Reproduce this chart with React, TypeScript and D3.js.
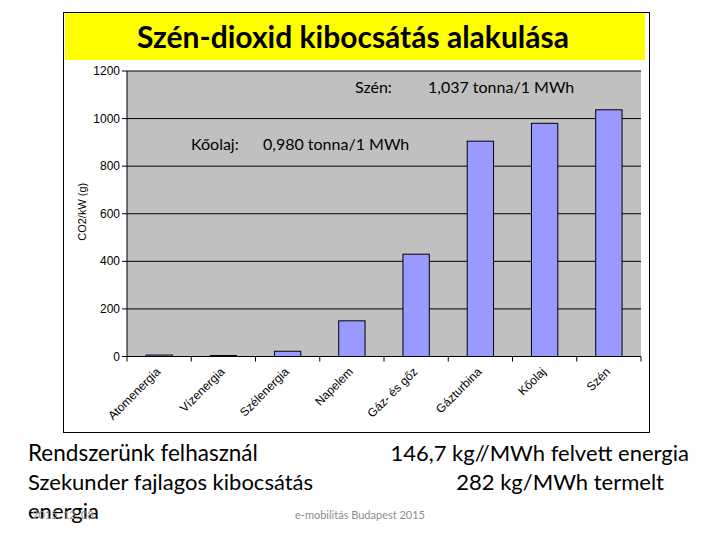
import React from "react";
import * as d3 from "d3";

const categories = ["Atomenergia", "Vízenergia", "Szélenergia", "Napelem", "Gáz- és gőz", "Gázturbina", "Kőolaj", "Szén"];
const values = [6, 4, 22, 150, 430, 905, 980, 1037];
const yTicks = [0, 200, 400, 600, 800, 1000, 1200];
const yTickLabels = ["0", "200", "400", "600", "800", "1000", "1200"];

const W = 720;
const H = 540;
const plotLeft = 127;
const plotRight = 641;
const plotTop = 71;
const plotBottom = 356.5;
const FONT = "Lato, 'Open Sans', sans-serif";
const AX = "'Liberation Sans', Arial, sans-serif";

export default function App() {
  const x = d3.scaleBand<string>().domain(categories).range([plotLeft, plotRight]).paddingInner(0.59).paddingOuter(0.295);
  const xb = d3.scaleBand<string>().domain(categories).range([plotLeft, plotRight]);
  const y = d3.scaleLinear().domain([0, 1200]).range([plotBottom, plotTop]);
  const tickXs = [...categories.map((c) => xb(c) as number), plotRight];

  return (
    <div style={{ position: "absolute", left: 0, top: 0, width: W, height: H, background: "#fff" }}>
      <svg width={W} height={H} style={{ display: "block" }}>
        <rect x={0} y={0} width={W} height={H} fill="#fff" />
        {/* chart frame */}
        <rect x={63.5} y={12.5} width={586} height={420} fill="#fff" stroke="#000" strokeWidth={1} />
        <rect x={65} y={13} width={580} height={47} fill="#ffff00" />
        <text x={353} y={48} textAnchor="middle" fontFamily={FONT} fontWeight="bold" fontSize={30} fill="#000">
          Szén-dioxid kibocsátás alakulása
        </text>

        {/* plot area */}
        <rect x={plotLeft} y={plotTop} width={plotRight - plotLeft} height={plotBottom - plotTop} fill="#c0c0c0" />
        {yTicks.map((t) => (
          <line key={"g" + t} x1={plotLeft} x2={plotRight} y1={y(t)} y2={y(t)} stroke="#000" strokeWidth={1} />
        ))}
        {/* y axis */}
        <line x1={plotLeft} x2={plotLeft} y1={plotTop} y2={plotBottom} stroke="#000" strokeWidth={1} />
        {yTicks.map((t, i) => (
          <g key={"yt" + t}>
            <line x1={plotLeft - 5} x2={plotLeft} y1={y(t)} y2={y(t)} stroke="#000" />
            <text x={plotLeft - 7} y={y(t) + 4} textAnchor="end" fontFamily={AX} fontSize={12} fill="#000">
              {yTickLabels[i]}
            </text>
          </g>
        ))}
        <text transform={`translate(86, ${(plotTop + plotBottom) / 2 - 2}) rotate(-90)`} textAnchor="middle" fontFamily={AX} fontSize={11} fill="#000">
          CO2/kW (g)
        </text>

        {/* bars */}
        {categories.map((c, i) => (
          <rect
            key={c}
            x={x(c)}
            y={y(values[i])}
            width={x.bandwidth()}
            height={plotBottom - y(values[i])}
            fill="#9999ff"
            stroke="#000"
            strokeWidth={1}
          />
        ))}

        {/* x axis */}
        <line x1={plotLeft} x2={plotRight} y1={plotBottom} y2={plotBottom} stroke="#000" strokeWidth={1} />
        {tickXs.map((tx, i) => (
          <line key={"xt" + i} x1={tx} x2={tx} y1={plotBottom} y2={plotBottom + 5} stroke="#000" />
        ))}
        {categories.map((c) => {
          const cx = (xb(c) as number) + xb.bandwidth() / 2;
          return (
            <text key={"xl" + c} transform={`translate(${cx + 2}, ${plotBottom + 16}) rotate(-45)`} textAnchor="end" fontFamily={AX} fontSize={12} fill="#000">
              {c}
            </text>
          );
        })}

        {/* annotations */}
        <text x={355} y={93} fontFamily={FONT} fontSize={16} fill="#000">Szén:</text>
        <text x={428} y={93} fontFamily={FONT} fontSize={16} fill="#000">1,037 tonna/1 MWh</text>
        <text x={191} y={150} fontFamily={FONT} fontSize={16} fill="#000">Kőolaj:</text>
        <text x={263} y={150} fontFamily={FONT} fontSize={16} fill="#000">0,980 tonna/1 MWh</text>

        {/* bottom texts */}
        <text x={28} y={461} fontFamily={FONT} fontSize={22.5} fill="#000">Rendszerünk felhasznál</text>
        <text x={28} y={490} fontFamily={FONT} fontSize={22} fill="#000">Szekunder fajlagos kibocsátás</text>
        <text x={28} y={519} fontFamily={FONT} fontSize={22} fill="#000">energia</text>
        <text x={32} y={519} fontFamily={FONT} fontSize={11} fill="#8c8c8c">2015. 12. 08.</text>
        <text x={689} y={461} textAnchor="end" fontFamily={FONT} fontSize={22} fill="#000">146,7 kg//MWh felvett energia</text>
        <text x={664} y={490} textAnchor="end" fontFamily={FONT} fontSize={22} fill="#000">282 kg/MWh termelt</text>
        <text x={360} y={519} textAnchor="middle" fontFamily={FONT} fontSize={11} fill="#8c8c8c">e-mobilitás Budapest 2015</text>
      </svg>
    </div>
  );
}
